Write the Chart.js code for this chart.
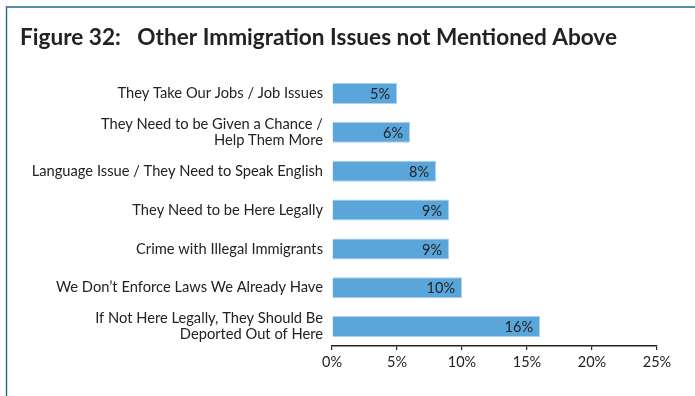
<!DOCTYPE html>
<html>
<head>
<meta charset="utf-8">
<script src="https://cdn.jsdelivr.net/npm/chart.js@4/dist/chart.umd.min.js"></script>
<style>
  html, body { margin: 0; padding: 0; background: #ffffff; }
  #wrap { position: relative; width: 695px; height: 396px; }
</style>
</head>
<body>
<div id="wrap"><canvas id="chart" width="695" height="396"></canvas></div>
<script>
// Survey responses: other immigration issues raised by respondents
const categories = [
  "They Take Our Jobs / Job Issues",
  ["They Need to be Given a Chance /", "Help Them More"],
  "Language Issue / They Need to Speak English",
  "They Need to be Here Legally",
  "Crime with Illegal Immigrants",
  "We Don\u2019t Enforce Laws We Already Have",
  ["If Not Here Legally, They Should Be", "Deported Out of Here"]
];
const shares = [5, 6, 8, 9, 9, 10, 16];
const xTicks = [0, 5, 10, 15, 20, 25];

const FONT = "'Lato', 'Open Sans', sans-serif";
const INK = '#222222';

// Thin frame along the top and left edges of the figure
const framePlugin = {
  id: 'frame',
  beforeDraw(chart) {
    const ctx = chart.ctx;
    ctx.save();
    ctx.strokeStyle = '#1d6a8e';
    ctx.lineWidth = 1.4;
    ctx.beginPath();
    ctx.moveTo(6.5, chart.height);
    ctx.lineTo(6.5, 7);
    ctx.lineTo(chart.width, 7);
    ctx.stroke();
    ctx.restore();
  }
};

// Percentage written inside the right end of each bar
const valueLabelPlugin = {
  id: 'valueLabels',
  afterDatasetsDraw(chart) {
    const ctx = chart.ctx;
    const meta = chart.getDatasetMeta(0);
    ctx.save();
    ctx.font = '14.5px ' + FONT;
    ctx.fillStyle = INK;
    ctx.textAlign = 'right';
    ctx.textBaseline = 'middle';
    meta.data.forEach((bar, i) => {
      ctx.fillText(shares[i] + '%', bar.x - 7, bar.y + 1);
    });
    ctx.restore();
  }
};

new Chart(document.getElementById('chart'), {
  type: 'bar',
  data: {
    labels: categories,
    datasets: [{
      data: shares,
      backgroundColor: '#5aa6da',
      borderColor: '#a9d2f0',
      borderWidth: 1,
      barPercentage: 0.54,
      categoryPercentage: 1.0
    }]
  },
  options: {
    indexAxis: 'y',
    responsive: false,
    animation: false,
    events: [],
    layout: { padding: { left: 20, right: 38, top: 0, bottom: 0 } },
    plugins: {
      legend: { display: false },
      tooltip: { enabled: false },
      title: {
        display: true,
        text: 'Figure 32:   Other Immigration Issues not Mentioned Above',
        align: 'start',
        color: INK,
        font: { family: FONT, size: 22.6, weight: 'bold', lineHeight: 1.2 },
        padding: { top: 24, bottom: 23 }
      }
    },
    scales: {
      x: {
        min: 0,
        max: 25,
        afterBuildTicks(scale) { scale.ticks = xTicks.map(v => ({ value: v })); },
        afterFit(scale) { scale.height = 50; },
        grid: { drawOnChartArea: false, drawTicks: true, tickLength: 4, color: INK, lineWidth: 1.2 },
        border: { display: true, color: INK, width: 1.5 },
        ticks: {
          color: INK,
          font: { family: FONT, size: 14.5 },
          padding: 4,
          callback: v => v + '%'
        }
      },
      y: {
        afterFit(scale) { scale.width = 312; },
        grid: { display: false, drawTicks: false },
        border: { display: false },
        ticks: {
          color: INK,
          font: { family: FONT, size: 14.7, lineHeight: 1.1 },
          padding: 9
        }
      }
    }
  },
  plugins: [framePlugin, valueLabelPlugin]
});
</script>
</body>
</html>
